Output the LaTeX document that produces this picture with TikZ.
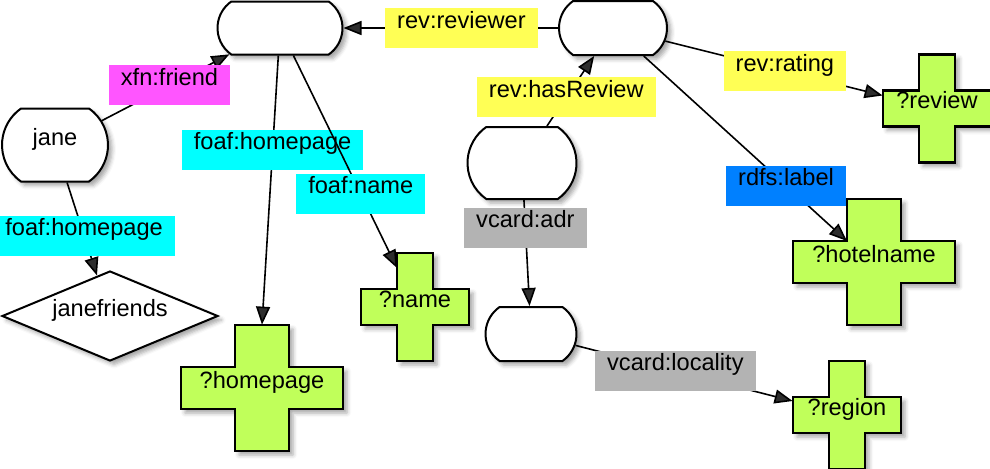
\documentclass[tikz,border=0pt]{standalone}
\usepackage{fontspec}
\setmainfont{Liberation Sans}
\usetikzlibrary{shapes.misc,shapes.geometric,arrows.meta,shadows.blur}
\definecolor{revyellow}{HTML}{FFFF55}
\definecolor{xfnpink}{HTML}{FF55FF}
\definecolor{foafcyan}{HTML}{00FFFF}
\definecolor{vcardgray}{HTML}{B3B3B3}
\definecolor{rdfsblue}{HTML}{0080FF}
\definecolor{vargreen}{HTML}{C0FF5A}
\tikzset{
  txt/.style={text height=8pt, text depth=8pt, inner sep=0pt},
  shade/.style={blur shadow={shadow xshift=2pt, shadow yshift=-2pt, shadow blur radius=2pt, shadow opacity=35}},
  blank/.style={txt, draw, line width=1pt, fill=white, shade, rounded rectangle, rounded rectangle arc length=110},
  lbl/.style={txt, fill=#1, inner xsep=6pt, inner ysep=2pt},
  var/.style={draw, line width=1.4pt, fill=vargreen, shade},
  rel/.style={line width=0.8pt, -{Triangle[length=9pt,width=7pt]}},
}
\begin{document}
\begin{tikzpicture}[x=0.5pt,y=-0.5pt,font=\fontsize{11.8}{14}\selectfont]
    \useasboundingbox (0,0) rectangle (990,468);
    % resource nodes
    \node[blank, minimum width=62.5pt, minimum height=26.5pt] (reviewer) at (280,28) {};
    \node[blank, minimum width=54pt, minimum height=27pt] (review) at (613,28) {};
    \node[blank, minimum width=53pt, minimum height=36.5pt] (jane) at (55,145) {jane};
    \node[blank, minimum width=54.5pt, minimum height=36pt] (hotel) at (522,163) {};
    \node[blank, minimum width=45.5pt, minimum height=27pt] (address) at (531,334) {};
    \node[txt, draw, line width=1pt, fill=white, shade, diamond, aspect=2.4, minimum width=108pt, minimum height=45pt] (jf) at (110,316) {janefriends};
    % variables
    \foreach \n/\x/\y/\a/\b/\t in {hp/262/388/54/42/?homepage, nm/415/307/36/36/?name, rv/937/108.5/36/36/?review, hn/874/262/54/42/?hotelname, rg/847/415/36/36/?region}{
        \filldraw[var] (\x,\y) ++({-\a/2},{-1.5*\b}) -- ++(\a,0) -- ++(0,\b) -- ++(\a,0) -- ++(0,\b) -- ++(-\a,0) -- ++(0,\b) -- ++(-\a,0) -- ++(0,-\b) -- ++(-\a,0) -- ++(0,-\b) -- ++(\a,0) -- cycle;
        \node[txt, minimum width={1.5pt*\a}, minimum height={1.5pt*\b}] (\n) at (\x,\y) {\t};
    }
    % properties
    \draw[rel] (review) -- node[lbl=revyellow, pos=0.45] (l1) {rev:reviewer} (reviewer);
    \draw[rel] (jane) -- node[lbl=xfnpink, pos=0.53] (l2) {xfn:friend} (reviewer);
    \draw[rel] (reviewer) -- node[lbl=foafcyan, pos=0.35] (l3) {foaf:homepage} (hp.north);
    \draw[rel] (reviewer) -- node[lbl=foafcyan, pos=0.65] (l4) {foaf:name} ([shift={(-18,-39)}]nm.center);
    \draw[rel] (jane) -- node[lbl=foafcyan, pos=0.57] (l5) {foaf:homepage} (jf);
    \draw[rel] (hotel) -- node[lbl=revyellow, pos=0.41] (l6) {rev:hasReview} (review);
    \draw[rel] (hotel) -- node[lbl=vcardgray, pos=0.26] (l7) {vcard:adr} (address);
    \draw[rel] (review) -- node[lbl=revyellow, pos=0.55] (l8) {rev:rating} ([yshift=6.5pt]rv.west);
    \draw[rel] (review) -- node[lbl=rdfsblue, pos=0.70] (l9) {rdfs:label} ([shift={(-27,-21)}]hn.center);
    \draw[rel] (address) -- node[lbl=vcardgray, pos=0.46] (l10) {vcard:locality} ([yshift=7pt]rg.west);
\end{tikzpicture}
\end{document}
